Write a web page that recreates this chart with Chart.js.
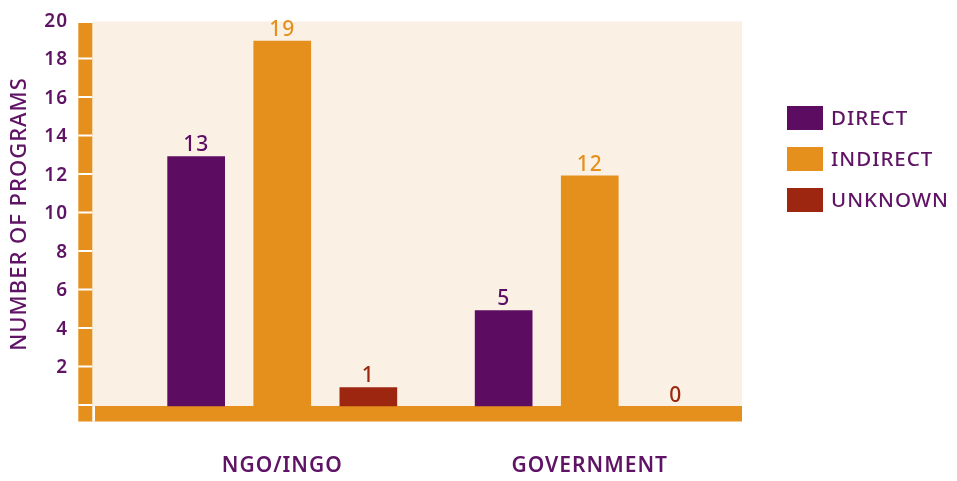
<!DOCTYPE html>
<html>
<head>
<meta charset="utf-8">
<script src="https://cdn.jsdelivr.net/npm/chart.js@4.4.0/dist/chart.umd.min.js"></script>
<style>
    html, body { margin: 0; padding: 0; background: #fff; }
    #wrap { width: 957px; height: 481px; }
</style>
</head>
<body>
<div id="wrap"><canvas id="programs"></canvas></div>
<script>
"use strict";

// data
var categories = ["NGO/INGO", "GOVERNMENT"];
var seriesNames = ["DIRECT", "INDIRECT", "UNKNOWN"];
var direct = [13, 5];
var indirect = [19, 12];
var unknown = [1, 0];
var yTicks = [2, 4, 6, 8, 10, 12, 14, 16, 18, 20];

var purple = "#5C0D62";
var orange = "#E5901C";
var red = "#9C2610";
var cream = "#FAF1E4";
var textPurple = "#5E1364";
var fontFamily = "'Noto Sans', sans-serif";
var spacing = "1px";

// cream plot panel + orange axis bars with white notches, value labels, legend
var framePlugin = {
    id: "frame",
    beforeUpdate: function (chart) { chart.ctx.letterSpacing = spacing; },
    beforeDraw: function (chart) {
        var ctx = chart.ctx, a = chart.chartArea, y = chart.scales.y;
        var L = a.left - 36.2, R = a.right - 1.5;
        var y0 = y.getPixelForValue(0), yTop = y.getPixelForValue(20);
        ctx.letterSpacing = spacing;
        ctx.save();
        ctx.fillStyle = cream;
        ctx.fillRect(L, yTop, R - L, y0 - yTop);
        ctx.fillStyle = orange;
        ctx.fillRect(L - 14, yTop + 1.5, 14, y0 - yTop - 1.5);
        ctx.fillRect(L - 14, y0 - 0.5, R - L + 14, 15.5);
        ctx.fillStyle = "#fff";
        [0].concat(yTicks).forEach(function (v) {
            if (v === 20) return;
            ctx.fillRect(L - 14, y.getPixelForValue(v) - 2.5, 14, 2);
        });
        ctx.fillRect(L, y0 - 0.5, 2.7, 15.5);
        ctx.restore();
    },
    afterDatasetsDraw: function (chart) {
        var ctx = chart.ctx;
        ctx.save();
        ctx.font = "500 21px " + fontFamily;
        ctx.textAlign = "center";
        ctx.textBaseline = "alphabetic";
        chart.data.datasets.forEach(function (ds, i) {
            var meta = chart.getDatasetMeta(i);
            ctx.fillStyle = ds.labelColor;
            meta.data.forEach(function (el, j) {
                ctx.fillText(String(ds.data[j]), el.x, el.y - 5);
            });
        });
        ctx.restore();
    },
    afterDraw: function (chart) {
        var ctx = chart.ctx;
        ctx.save();
        ctx.font = "500 20.5px " + fontFamily;
        ctx.textBaseline = "middle";
        ctx.textAlign = "left";
        chart.data.datasets.forEach(function (ds, i) {
            var cy = 118 + i * 41;
            ctx.fillStyle = ds.backgroundColor;
            ctx.fillRect(787, cy - 12, 36, 24);
            ctx.fillStyle = textPurple;
            ctx.fillText(ds.label, 831, cy + 1);
        });
        ctx.restore();
    }
};

var ctx = document.getElementById("programs").getContext("2d");
var chart = new Chart(ctx, {
    type: "bar",
    data: {
        labels: categories,
        datasets: [{
                label: seriesNames[0],
                data: direct,
                backgroundColor: purple,
                labelColor: purple
            },
            {
                label: seriesNames[1],
                data: indirect,
                backgroundColor: orange,
                labelColor: orange
            },
            {
                label: seriesNames[2],
                data: unknown,
                backgroundColor: red,
                labelColor: red
            }
        ]
    },
    options: {
        responsive: true,
        maintainAspectRatio: false,
        animation: false,
        datasets: {
            bar: { categoryPercentage: 0.84, barPercentage: 0.67 }
        },
        layout: {
            padding: { left: 0, right: 213.5, top: 21.5, bottom: 4.5 }
        },
        plugins: {
            legend: { display: false },
            tooltip: { enabled: false }
        },
        scales: {
            x: {
                grid: { display: false, drawTicks: false },
                border: { display: false },
                ticks: {
                    color: textPurple,
                    padding: 47,
                    font: { family: fontFamily, size: 21, weight: 600 }
                },
                afterFit: function (s) {
                    s.height = 70;
                    s.paddingLeft = 0;
                    s.paddingRight = 0;
                }
            },
            y: {
                min: 0,
                max: 20,
                grid: { display: false, drawTicks: false },
                border: { display: false },
                afterBuildTicks: function (s) {
                    s.ticks = yTicks.map(function (v) { return { value: v }; });
                },
                ticks: {
                    color: textPurple,
                    padding: 60.5,
                    font: { family: fontFamily, size: 19, weight: 600 }
                },
                title: {
                    display: true,
                    text: "NUMBER OF PROGRAMS",
                    color: textPurple,
                    padding: { top: 7, bottom: 0 },
                    font: { family: fontFamily, size: 22, weight: 500 }
                },
                afterFit: function (s) {
                    s.width = 128.5;
                    s.paddingTop = 0;
                    s.paddingBottom = 0;
                }
            }
        }
    },
    plugins: [framePlugin]
});
</script>
</body>
</html>
